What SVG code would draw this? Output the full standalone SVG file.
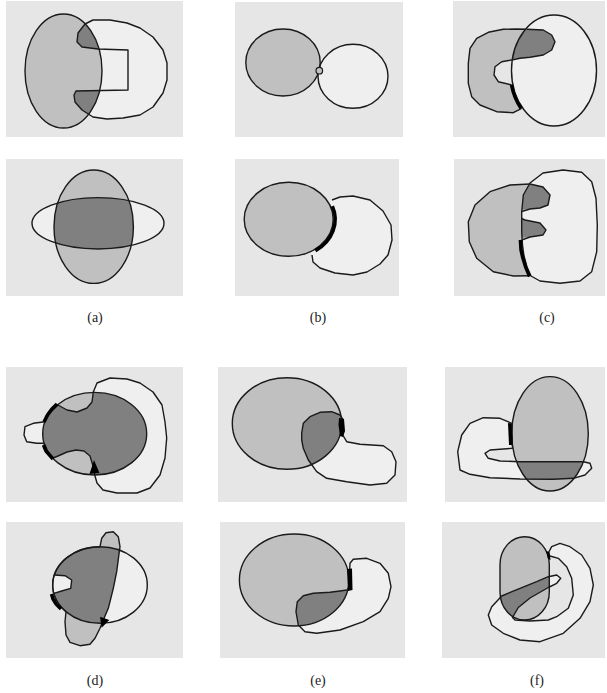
<svg xmlns="http://www.w3.org/2000/svg" width="607" height="693" viewBox="0 0 607 693">
<style>
.bg{fill:#e6e6e6}
.lt{fill:#efefef}
.md{fill:#c0c0c0}
.dk{fill:#808080}
.ol{fill:none;stroke:#1a1a1a;stroke-width:1.4;stroke-linejoin:round}
.bk{fill:#000}
.bks{fill:none;stroke:#000;stroke-width:3.5}
text{font-family:"Liberation Serif","Times New Roman",serif;font-size:14px;fill:#222;text-anchor:middle}
</style>
<defs>
<ellipse id="a1E" cx="63.5" cy="71" rx="38.5" ry="57"/>
<path id="a1L" d="M85,24 L93,20 L110,20 L127,23 L140,28 L153,37 L163,50 L167,63 L167,80 L163,93 L153,107 L140,115 L123,118 L107,119 L93,117 L82,110 L75,102 L74,95 L76,91 L128,90 L128,50 L98,49 L82,47 L77,42 L78,33 Z"/>
<path id="a1H" d="M85,24 L93,20 L110,20 L127,23 L140,28 L153,37 L163,50 L167,63 L167,80 L163,93 L153,107 L140,115 L123,118 L107,119 L93,117 L82,110 L75,102 L74,95 L76,91 L77,42 L78,33 Z"/>
<clipPath id="a1C"><use href="#a1E"/></clipPath>
<ellipse id="a2V" cx="93.7" cy="226.7" rx="39.7" ry="56.7"/>
<ellipse id="a2H" cx="98" cy="223.3" rx="66" ry="25.7"/>
<clipPath id="a2C"><use href="#a2V"/></clipPath>
<ellipse id="c1E" cx="554" cy="70.5" rx="42.5" ry="55.5"/>
<clipPath id="c1C"><use href="#c1E"/></clipPath>
<path id="c2L" d="M563,170 L543,173 L530,183 L523.3,195 L521.7,212 L521.7,232 L522.5,245 L524,256 L527,267 L531,276 L540,281 L560,283.3 L580,281 L591.7,271.7 L596.7,251.7 L597.3,225 L596,198.3 L591.7,181.7 L581.7,172.3 Z"/>
<clipPath id="c2C"><use href="#c2L"/></clipPath>
<ellipse id="d1E" cx="94.7" cy="433.7" rx="52" ry="41.3"/>
<path id="d1L" d="M93.3,392 L97,383 L110,378 L127,379 L140,383 L153,392 L162,405 L165,422 L166.7,438 L165,458 L160,475 L150,488 L137,493 L117,493 L103,490 L97,483 L95,476 L93,466 L90,456 L84,451 L76,450 L67,452 L58,456 L53,458 L48,452 L44.5,444 L43.3,443.3 L36.7,443.3 L26.7,441.7 L24,435 L25,426.7 L33.3,423.3 L45,421.7 L49.7,413 L58,405 L67,410 L77,412 L87,408 L92,402 Z"/>
<clipPath id="d1C"><use href="#d1E"/></clipPath>
<ellipse id="d2E" cx="100" cy="585" rx="47.3" ry="38.3"/>
<path id="d2M" d="M100,546.7 L101.7,538.3 L106,532.7 L113.3,531.7 L118.3,536.7 L120,546.7 L119.3,551.7 L116.7,571.7 L113.3,588.3 L108.3,608.3 L103.3,620 L100,628.3 L95,638.3 L90,644.3 L80,645.7 L70,642.3 L66,635 L65,621.7 L66,611.7 A47.3 38.3 0 0 1 100,546.7 Z"/>
<clipPath id="d2C"><use href="#d2E"/></clipPath>
<ellipse id="e1E" cx="287" cy="423.5" rx="54.7" ry="45.8"/>
<path id="e1L" d="M301.7,440 L301.7,433 L303.3,423.3 L310,416.7 L320,412.3 L331.7,411.7 L340,415 L343.3,420 L342.7,435 L346.7,441.7 L360,444.3 L383.3,445.7 L391.7,451.7 L396,461.7 L395,475 L386.7,483.3 L370,485 L346.7,481.7 L326.7,478.3 L316.7,471.7 L308.3,460 L303.3,448.3 Z"/>
<clipPath id="e1C"><use href="#e1E"/></clipPath>
<ellipse id="e2E" cx="294.2" cy="580" rx="54.8" ry="46"/>
<path id="e2L" d="M349,588 L349.5,575 L350,563.3 L353.3,559.3 L366.7,558.3 L380,563.3 L388.3,573.3 L391,586.7 L388.3,598.3 L380,611.7 L363.3,621.7 L340,630 L316.7,633.3 L305,631.7 L298.3,625 L296,611.7 L297.3,601.7 L303.3,595.7 L313.3,593.3 L330,592.3 L340,591 L346.7,590 Z"/>
<clipPath id="e2C"><use href="#e2E"/></clipPath>
<ellipse id="f1E" cx="550" cy="433.8" rx="38.3" ry="57.2"/>
<path id="f1L" d="M511.7,423.3 L500,418.3 L483.3,417.7 L470,423.3 L461.7,435 L457.7,451.7 L460,470 L470,474.3 L490,477.7 L520,479 L553.3,479.3 L573.3,478.3 L585,475 L591.7,468.3 L590,463.3 L583.3,461.7 L520,461.7 L500,461 L488.3,458.3 L485,453.3 L490,450 L512.5,448.3 Z"/>
<clipPath id="f1C"><use href="#f1E"/></clipPath>
<rect id="f2E" x="500" y="536.7" width="49.3" height="83.3" rx="24.6" ry="28"/>
<path id="f2L" d="M548.3,553 L551.7,546.7 L560,543.3 L570,546.7 L581.7,555 L590,568.3 L593.3,585 L590,601.7 L580,618.3 L563.3,633.3 L540,641.7 L520,640 L503.3,633.3 L491.7,625 L488.3,615 L491.7,606.7 L501.7,596 L520,588.3 L536.7,581.7 L548.3,576.7 L556.7,575 L560.7,578.3 L556.7,583.3 L548.3,587.5 L530,598 L518.3,607.5 L512.5,617.5 L515,620 L530,621 L548.3,620 L556.7,616.7 L568.3,608.3 L573.3,595 L571.7,578.3 L566.7,566.7 L558.3,558.3 L550,556 Z"/>
<clipPath id="f2C"><use href="#f2E"/></clipPath>
</defs>

<g id="panel-a1">
<rect class="bg" x="6" y="1" width="177" height="136"/>
<use href="#a1H" class="lt"/>
<use href="#a1E" class="md"/>
<use href="#a1L" class="dk" clip-path="url(#a1C)"/>
<use href="#a1L" class="ol"/>
<use href="#a1E" class="ol"/>
</g>

<g id="panel-a2">
<rect class="bg" x="6" y="159" width="177" height="137"/>
<use href="#a2H" class="lt"/>
<use href="#a2V" class="md"/>
<use href="#a2H" class="dk" clip-path="url(#a2C)"/>
<use href="#a2H" class="ol"/>
<use href="#a2V" class="ol"/>
</g>

<g id="panel-b1">
<rect class="bg" x="235" y="2" width="168" height="135"/>
<ellipse class="md" cx="283" cy="62.5" rx="37.2" ry="33.5"/>
<ellipse class="lt" cx="353" cy="76.3" rx="35" ry="32"/>
<ellipse class="ol" cx="283" cy="62.5" rx="37.2" ry="33.5"/>
<ellipse class="ol" cx="353" cy="76.3" rx="35" ry="32"/>
<circle class="md" cx="319.3" cy="70.7" r="3.3" stroke="#1a1a1a" stroke-width="1.2"/>
</g>

<g id="panel-b2">
<rect class="bg" x="235" y="159" width="164" height="137"/>
<path class="lt" d="M332,200 L340,197 L353,196 L370,200 L383,211 L391,225 L392,240 L388,255 L380,264 L367,272 L353,275 L335,273 L320,268 L313,262 L312,255 L300,230 L320,210 Z"/>
<path class="ol" d="M332,200 L340,197 L353,196 L370,200 L383,211 L391,225 L392,240 L388,255 L380,264 L367,272 L353,275 L335,273 L320,268 L313,262 L312,255"/>
<ellipse class="md" cx="288.7" cy="219.3" rx="44.5" ry="37"/>
<ellipse class="ol" cx="288.7" cy="219.3" rx="44.5" ry="37"/>
<path class="bks" d="M332.4,206.1 A46.5 38.5 0 0 1 315.4,250.8"/>
</g>

<g id="panel-c1">
<rect class="bg" x="453" y="1" width="152" height="136"/>
<path class="md" d="M526.7,29.3 L516.7,29 L503.3,29.3 L488.3,32.3 L476.7,38.3 L470,48.3 L468.3,63.3 L468.3,83.3 L471.7,96.7 L480,105 L496.7,111.7 L513.3,112.7 L521.7,108.3 L516,97 L511.7,85 L498.3,81.7 L494,75 L495,66.7 L501.7,61.7 L511.7,60 L514,50 L517,42 L522,35 Z"/>
<path class="ol" d="M526.7,29.3 L516.7,29 L503.3,29.3 L488.3,32.3 L476.7,38.3 L470,48.3 L468.3,63.3 L468.3,83.3 L471.7,96.7 L480,105 L496.7,111.7 L513.3,112.7 L521.7,108.3 M511.7,85 L498.3,81.7 L494,75 L495,66.7 L501.7,61.7 L511.7,60"/>
<use href="#c1E" class="lt"/>
<path class="dk" clip-path="url(#c1C)" d="M505,25 L526.7,29.3 L543.3,30 L551.7,35 L555,41.7 L551.7,50 L543.3,55 L530,57.3 L520,58.3 L505,60 Z"/>
<path class="ol" d="M526.7,29.3 L543.3,30 L551.7,35 L555,41.7 L551.7,50 L543.3,55 L530,57.3 L520,58.3 L511.7,60"/>
<use href="#c1E" class="ol"/>
<path class="bks" stroke-width="3" d="M511.5,85 A44 57 0 0 0 521,108.3"/>
</g>

<g id="panel-c2">
<rect class="bg" x="454" y="159" width="151" height="137"/>
<path class="md" d="M510,185 L530,184 L543,187 L550,195 L548,205 L540,208 L530,209 L522,212 L522,217 L525,220 L540,223 L546,230 L543,235 L530,237 L522,240 L524,255 L529,275.7 L513.3,276 L493.3,271.7 L476.7,258.3 L469.3,241.7 L468.3,221.7 L475,205 L490,191.7 Z"/>
<path class="ol" d="M530,184 L510,185 L490,191.7 L475,205 L468.3,221.7 L469.3,241.7 L476.7,258.3 L493.3,271.7 L513.3,276 L529,275.7"/>
<use href="#c2L" class="lt"/>
<path class="dk" clip-path="url(#c2C)" d="M505,182 L530,184 L543,187 L550,195 L548,205 L540,208 L530,209 L505,212 Z M505,218 L525,220 L540,223 L546,230 L543,235 L530,237 L505,240 Z"/>
<path class="ol" d="M530,184 L543,187 L550,195 L548,205 L540,208 L530,209 L521.7,211.5 M521.7,218.5 L525,220 L540,223 L546,230 L543,235 L530,237 L521.7,240"/>
<use href="#c2L" class="ol"/>
<path class="bks" d="M520.4,240 L521,250 L522.6,257 L525.6,267 L529.6,276.5"/>
</g>

<g id="panel-d1">
<rect class="bg" x="6" y="367" width="177" height="135"/>
<use href="#d1L" class="lt"/>
<use href="#d1E" class="md"/>
<use href="#d1L" class="dk" clip-path="url(#d1C)"/>
<use href="#d1E" class="ol"/>
<use href="#d1L" class="ol"/>
<path class="bks" stroke-width="3" d="M57,404 L52,409 L47.5,415 L44,422 M43.5,445 L46,451 L49.5,455 L53,459"/>
<polygon class="bk" points="89.5,474 99.5,473 94,460"/>
</g>

<g id="panel-d2">
<rect class="bg" x="6" y="522" width="177" height="136"/>
<use href="#d2M" class="md"/>
<use href="#d2E" class="lt"/>
<use href="#d2M" class="dk" clip-path="url(#d2C)"/>
<path class="lt" d="M54.3,575 L65,575.7 L71.7,580 L70.7,588.3 L61.7,591 L53.8,593.3 A47.3 38.3 0 0 1 54.3,575 Z" fill="#f4f4f4"/>
<use href="#d2E" class="ol"/>
<use href="#d2M" class="ol"/>
<path class="ol" d="M54.3,575 L65,575.7 L71.7,580 L70.7,588.3 L61.7,591 L53.8,593.3"/>
<path class="bks" stroke-width="3" d="M51.5,594 L53,599 L56,604 L61,609"/>
<polygon class="bk" points="100,616.7 109.3,620 101.7,627.7"/>
</g>

<g id="panel-e1">
<rect class="bg" x="218" y="367" width="189" height="135"/>
<use href="#e1L" class="lt"/>
<use href="#e1E" class="md"/>
<use href="#e1L" class="dk" clip-path="url(#e1C)"/>
<use href="#e1E" class="ol"/>
<use href="#e1L" class="ol"/>
<polygon class="bk" points="339,418 344,419 345,431 343,437 340,436 338.5,425"/>
</g>

<g id="panel-e2">
<rect class="bg" x="220" y="522" width="185" height="136"/>
<use href="#e2L" class="lt"/>
<use href="#e2E" class="md"/>
<use href="#e2L" class="dk" clip-path="url(#e2C)"/>
<use href="#e2E" class="ol"/>
<use href="#e2L" class="ol"/>
<polygon class="bk" points="347,569 352,568.5 352.5,590 348,591"/>
</g>

<g id="panel-f1">
<rect class="bg" x="445" y="367" width="160" height="135"/>
<use href="#f1L" class="lt"/>
<use href="#f1E" class="md"/>
<use href="#f1L" class="dk" clip-path="url(#f1C)"/>
<use href="#f1E" class="ol"/>
<use href="#f1L" class="ol"/>
<polygon class="bk" points="508,423 511.5,423.5 512.5,445 509,445"/>
</g>

<g id="panel-f2">
<rect class="bg" x="442" y="522" width="163" height="136"/>
<use href="#f2L" class="lt"/>
<use href="#f2E" class="md"/>
<use href="#f2L" class="dk" clip-path="url(#f2C)"/>
<use href="#f2E" class="ol"/>
<use href="#f2L" class="ol"/>
<polygon class="bk" points="546,551 549.5,552 550.5,560 548,559"/>
</g>

<g id="labels">
<text x="95" y="322">(a)</text>
<text x="318" y="322">(b)</text>
<text x="547" y="322">(c)</text>
<text x="95" y="685">(d)</text>
<text x="318" y="685">(e)</text>
<text x="537" y="685">(f)</text>
</g>
</svg>
